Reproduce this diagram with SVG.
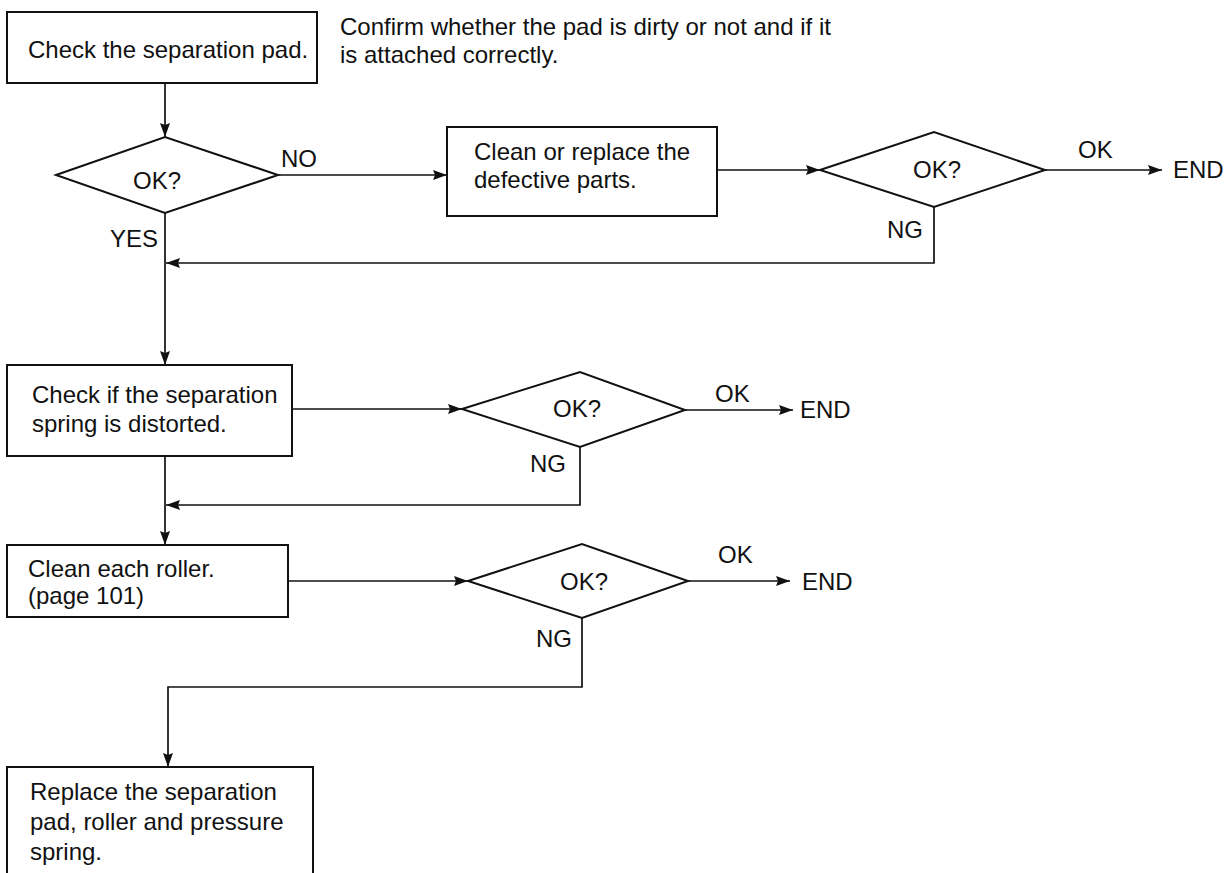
<svg xmlns="http://www.w3.org/2000/svg" width="1226" height="873" viewBox="0 0 1226 873">
  <style>
    text { font-family: "Liberation Sans", Arial, Helvetica, sans-serif; font-size: 24px; fill: #111; }
    .box { fill: #fff; stroke: #111; stroke-width: 2; }
    .dia { fill: #fff; stroke: #111; stroke-width: 2; }
    .wire { fill: none; stroke: #111; stroke-width: 1.7; }
  </style>
  <defs>
    <marker id="arrow" viewBox="0 0 14 10" refX="14" refY="5" markerWidth="14" markerHeight="10" markerUnits="userSpaceOnUse" orient="auto">
      <path d="M0,0 L14,5 L0,10 L2,5 Z" fill="#111"/>
    </marker>
  </defs>
  <rect width="1226" height="873" fill="#fff"/>

  <!-- connectors and their labels -->
  <g id="connectors">
    <path class="wire" d="M165,83 V137" marker-end="url(#arrow)"/>
    <path class="wire" d="M278,175 H447" marker-end="url(#arrow)"/>
    <path class="wire" d="M717,170 H820" marker-end="url(#arrow)"/>
    <path class="wire" d="M1045,170 H1162" marker-end="url(#arrow)"/>
    <path class="wire" d="M934,207 V263 H166" marker-end="url(#arrow)"/>
    <path class="wire" d="M165,213 V365" marker-end="url(#arrow)"/>
    <path class="wire" d="M292,409 H462" marker-end="url(#arrow)"/>
    <path class="wire" d="M685,410 H793" marker-end="url(#arrow)"/>
    <path class="wire" d="M580,447 V505 H166" marker-end="url(#arrow)"/>
    <path class="wire" d="M165,456 V545" marker-end="url(#arrow)"/>
    <path class="wire" d="M288,581 H468" marker-end="url(#arrow)"/>
    <path class="wire" d="M688,581 H790" marker-end="url(#arrow)"/>
    <path class="wire" d="M582,618 V687 H168 V767" marker-end="url(#arrow)"/>

    <text x="281" y="167">NO</text>
    <text x="110" y="247">YES</text>
    <text x="1078" y="158">OK</text>
    <text x="1173" y="178">END</text>
    <text x="887" y="238">NG</text>
    <text x="715" y="402">OK</text>
    <text x="800" y="418">END</text>
    <text x="530" y="472">NG</text>
    <text x="718" y="563">OK</text>
    <text x="802" y="590">END</text>
    <text x="536" y="647">NG</text>
  </g>

  <g id="check-pad">
    <rect class="box" x="7" y="12" width="310" height="71"/>
    <text x="28" y="58">Check the separation pad.</text>
  </g>

  <g id="pad-note">
    <text x="340" y="35">Confirm whether the pad is dirty or not and if it</text>
    <text x="340" y="63">is attached correctly.</text>
  </g>

  <g id="decision-pad">
    <polygon class="dia" points="56,175 165,137 278,175 165,213"/>
    <text x="133" y="189">OK?</text>
  </g>

  <g id="clean-replace">
    <rect class="box" x="447" y="127" width="270" height="89"/>
    <text x="474" y="160">Clean or replace the</text>
    <text x="474" y="188">defective parts.</text>
  </g>

  <g id="decision-parts">
    <polygon class="dia" points="820,170 934,132 1045,170 934,207"/>
    <text x="913" y="178">OK?</text>
  </g>

  <g id="check-spring">
    <rect class="box" x="7" y="365" width="285" height="91"/>
    <text x="32" y="403">Check if the separation</text>
    <text x="32" y="432">spring is distorted.</text>
  </g>

  <g id="decision-spring">
    <polygon class="dia" points="462,409 580,372 685,410 580,447"/>
    <text x="553" y="417">OK?</text>
  </g>

  <g id="clean-rollers">
    <rect class="box" x="7" y="545" width="281" height="72"/>
    <text x="28" y="577">Clean each roller.</text>
    <text x="28" y="604">(page 101)</text>
  </g>

  <g id="decision-rollers">
    <polygon class="dia" points="468,581 582,544 688,581 582,618"/>
    <text x="560" y="590">OK?</text>
  </g>

  <g id="replace-parts">
    <rect class="box" x="7" y="767" width="306" height="120"/>
    <text x="30" y="800">Replace the separation</text>
    <text x="30" y="830">pad, roller and pressure</text>
    <text x="30" y="860">spring.</text>
  </g>
</svg>
